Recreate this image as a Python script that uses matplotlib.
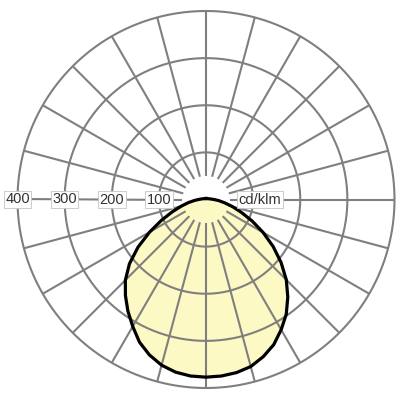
import numpy as np
import matplotlib.pyplot as plt

plt.rcParams['font.family'] = ['Liberation Sans', 'DejaVu Sans']

# luminous intensity distribution, cd/klm
gamma = [0, 5, 10, 15, 20, 25, 30, 35, 40, 45, 50, 55, 60, 65, 70, 75, 80, 85, 90,
         100, 110, 120, 150, 180]
left_cd = [377, 376, 372, 364, 351, 334, 311, 289, 266, 242, 212, 176, 138, 104, 76, 54, 38, 25, 16,
           8, 5, 4, 2, 2]
right_cd = [377, 376, 373, 367, 355, 340, 319, 297, 270, 241, 208, 174, 140, 108, 80, 58, 40, 27, 17,
            8, 5, 4, 2, 2]

rings = [100, 200, 300, 400]
ring_labels = ['100', '200', '300', '400']
unit = 'cd/klm'
spoke_angles = np.arange(0, 360, 15)

grid_col = '#7f7f7f'

fig = plt.figure(figsize=(4, 4), dpi=100)
ax = fig.add_axes([0.04375, 0.03, 0.9425, 0.9425], projection='polar')
ax.set_theta_zero_location('S')
ax.set_theta_direction(-1)
ax.set_ylim(0, 400)
ax.set_axis_off()

# curve: right half on negative angles, left half on positive
g = np.array(gamma, dtype=float)
th = np.radians(np.concatenate([-g[::-1], g[1:]]))
val = np.concatenate([np.array(right_cd)[::-1], np.array(left_cd)[1:]])
ax.fill(th, val, color='#fdf9c4', zorder=1)

# grid
t = np.linspace(0, 2 * np.pi, 400)
for r in rings:
    ax.plot(t, np.full_like(t, r), color=grid_col, lw=1.5, zorder=2, clip_on=False)
for a in spoke_angles:
    ax.plot([np.radians(a)] * 2, [50, 400], color=grid_col, lw=1.5, zorder=2,
            clip_on=False, solid_capstyle='butt')

ax.plot(th, val, color='black', lw=2.3, zorder=4, solid_joinstyle='round')

box = dict(boxstyle='square,pad=0.1', fc='white', ec='#c4c4c4', lw=0.6)
for r, lab in zip(rings, ring_labels):
    ax.text(np.radians(90), r, lab, ha='center', va='center', fontsize=10.5,
            color='#333333', bbox=box, zorder=5)
ax.text(np.radians(-90), 115, unit, ha='center', va='center', fontsize=10.5,
        color='#333333', bbox=box, zorder=5)

fig.savefig('out.png', dpi=100)
